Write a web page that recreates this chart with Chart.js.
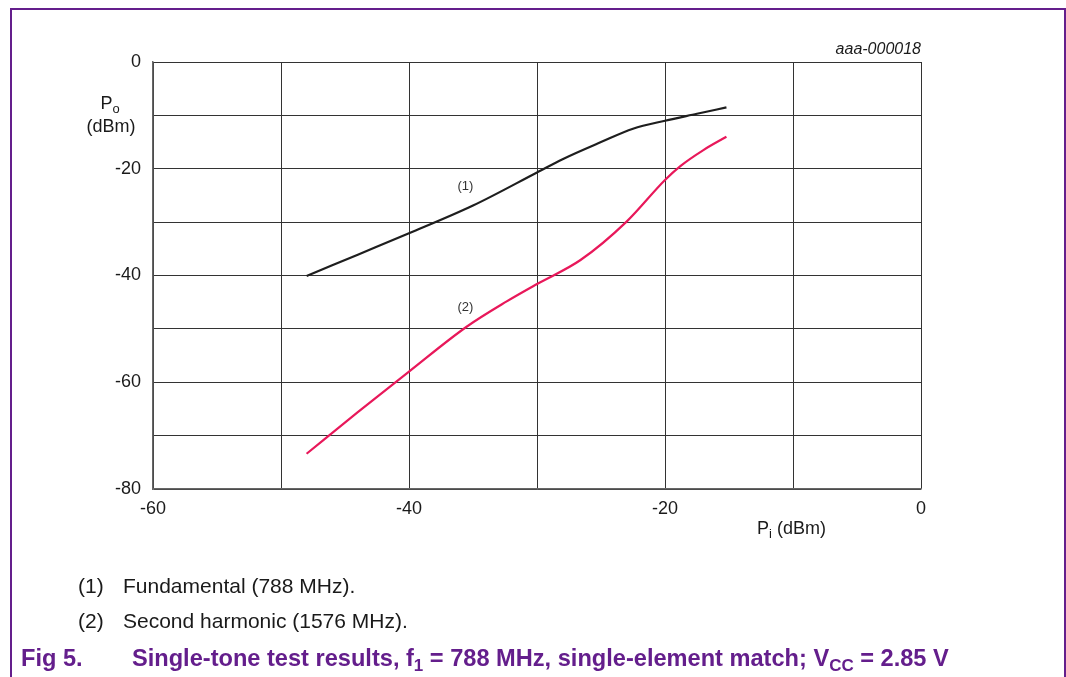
<!DOCTYPE html>
<html>
<head>
<meta charset="utf-8">
<script src="https://cdn.jsdelivr.net/npm/chart.js@4.4.1/dist/chart.umd.min.js"></script>
<style>
    html, body { margin: 0; padding: 0; background: #fff; }
    body { width: 1066px; height: 677px; position: relative; overflow: hidden; font-family: 'Liberation Sans', Arial, sans-serif; }
    #frame { position: absolute; left: 10px; top: 8px; width: 1052px; height: 700px; border: 2px solid #641e8c; border-bottom: none; }
    #wrap { position: absolute; left: 0; top: 0; width: 1066px; height: 677px; }
    .t { position: absolute; white-space: nowrap; color: #1a1a1a; line-height: 1; }
    .c { width: 100px; text-align: center; }
    .note { font-size: 21px; }
    .cap { font-size: 23.6px; font-weight: bold; color: #641e8c; }
    sub { font-size: 72%; vertical-align: -0.3em; line-height: 0; }
</style>
</head>
<body>
<div id="frame"></div>
<div id="wrap"><canvas id="chart" width="1066" height="677"></canvas></div>

<div class="t c" style="left:60px; top:94px; font-size:18px;">P<sub>o</sub></div>
<div class="t c" style="left:61px; top:117px; font-size:18px;">(dBm)</div>
<div class="t" style="left:757px; top:519px; font-size:18px;">P<sub>i</sub> (dBm)</div>
<div class="t" style="right:145px; top:41px; font-size:16px; font-style:italic;">aaa-000018</div>

<div class="t note" style="left:78px; top:575px;">(1)</div>
<div class="t note" style="left:123px; top:575px;">Fundamental (788 MHz).</div>
<div class="t note" style="left:78px; top:610px;">(2)</div>
<div class="t note" style="left:123px; top:610px;">Second harmonic (1576 MHz).</div>
<div class="t cap" style="left:21px; top:647px;">Fig 5.</div>
<div class="t cap" style="left:132px; top:647px;">Single-tone test results, f<sub>1</sub> = 788 MHz, single-element match; V<sub>CC</sub> = 2.85 V</div>

<script>
(function () {
    'use strict';

    // Pi (dBm) values and output levels
    var fundPi = [-48, -44, -40, -35, -30, -28, -25, -22.5, -20, -17.5, -15.2];
    var fundPo = [-40.1, -36.1, -32.1, -26.9, -20.7, -18.2, -15.0, -12.5, -11.0, -9.7, -8.5];

    var harmPi = [-48, -44, -40, -35.5, -32.4, -30, -26.6, -23, -20, -18.8, -17, -15.2];
    var harmPo = [-73.4, -65.6, -58.0, -49.6, -44.9, -41.6, -37.1, -29.9, -22.1, -19.5, -16.5, -14.0];

    var xTicks = [-60, -40, -20, 0];
    var yTicks = [0, -20, -40, -60, -80];

    var curveLabels = [
        { text: '(1)', x: -35.6, y: -23.3 },
        { text: '(2)', x: -35.6, y: -46.0 }
    ];

    function toPoints(xs, ys) {
        return xs.map(function (x, i) { return { x: x, y: ys[i] }; });
    }

    var labelPlugin = {
        id: 'curveLabels',
        afterDatasetsDraw: function (chart) {
            var ctx = chart.ctx;
            var sx = chart.scales.x, sy = chart.scales.y;
            ctx.save();
            ctx.font = "13px 'Liberation Sans', Arial, sans-serif";
            ctx.fillStyle = '#333';
            ctx.textAlign = 'center';
            ctx.textBaseline = 'middle';
            curveLabels.forEach(function (l) {
                ctx.fillText(l.text, sx.getPixelForValue(l.x), sy.getPixelForValue(l.y));
            });
            ctx.restore();
        }
    };

    var tickFont = { family: "'Liberation Sans', Arial, sans-serif", size: 18 };

    new Chart(document.getElementById('chart'), {
        type: 'scatter',
        data: {
            datasets: [{
                label: 'Fundamental',
                data: toPoints(fundPi, fundPo),
                showLine: true,
                borderColor: '#1e1e1e',
                borderWidth: 2.2,
                pointRadius: 0,
                cubicInterpolationMode: 'monotone'
            }, {
                label: 'Second harmonic',
                data: toPoints(harmPi, harmPo),
                showLine: true,
                borderColor: '#e8185a',
                borderWidth: 2.2,
                pointRadius: 0,
                cubicInterpolationMode: 'monotone'
            }]
        },
        options: {
            responsive: false,
            animation: false,
            events: [],
            layout: { padding: { left: 0, top: 62, right: 145, bottom: 158 } },
            plugins: { legend: { display: false }, tooltip: { enabled: false } },
            scales: {
                x: {
                    type: 'linear', min: -60, max: 0,
                    afterFit: function (s) { s.height = 30; },
                    afterBuildTicks: function (s) {
                        s.ticks = [-60, -50, -40, -30, -20, -10, 0].map(function (v) { return { value: v }; });
                    },
                    grid: { color: '#333', lineWidth: 1, drawTicks: false },
                    border: { color: '#666', width: 1.5 },
                    ticks: {
                        color: '#1a1a1a', font: tickFont, padding: 9, maxRotation: 0, autoSkip: false,
                        callback: function (v) { return xTicks.indexOf(v) >= 0 ? String(v) : ''; }
                    }
                },
                y: {
                    type: 'linear', min: -80, max: 0,
                    afterFit: function (s) { s.width = 153; },
                    afterBuildTicks: function (s) {
                        s.ticks = [-80, -70, -60, -50, -40, -30, -20, -10, 0].map(function (v) { return { value: v }; });
                    },
                    grid: { color: '#333', lineWidth: 1, drawTicks: false },
                    border: { color: '#666', width: 1.5 },
                    ticks: {
                        color: '#1a1a1a', font: tickFont, padding: 12, autoSkip: false,
                        callback: function (v) { return yTicks.indexOf(v) >= 0 ? String(v) : ''; }
                    }
                }
            }
        },
        plugins: [labelPlugin]
    });
})();
</script>
</body>
</html>
